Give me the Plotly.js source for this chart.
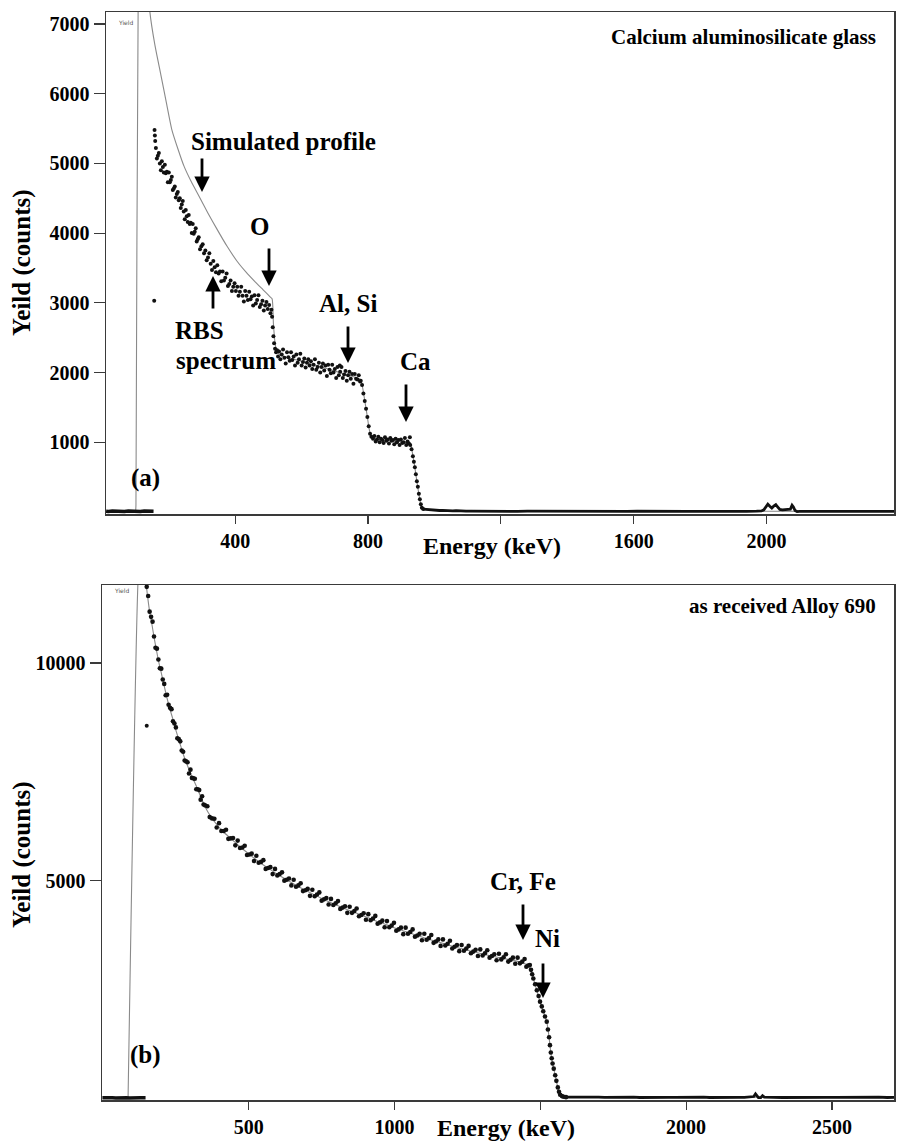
<!DOCTYPE html>
<html>
<head>
<meta charset="utf-8">
<script src="https://cdn.plot.ly/plotly-3.0.1.min.js"></script>
<style>html,body{margin:0;padding:0;background:#fff;}#chart{width:897px;height:1143px;}</style>
</head>
<body>
<div id="chart"></div>
<script>
// ---------- Panel (a): Calcium aluminosilicate glass  [energy keV, yield counts] ----------
const glassLow = [[11,10],[18,5],[30,12],[42,8],[54,14],[66,6],[78,12],[90,8],[102,14],[114,6],[126,12],[138,8],[150,10],[154,10]];
const glassOutliers = [[156,3030]];
const glassSpectrum = [
[157,5480],[158,5400],[159,5320],[161,5220],[164,5070],[167,5110],[170,5150],[173,5000],[176,4900],[179,5030],
[182,4950],[185,4870],[188,4980],[191,4860],[194,4880],[197,4730],[200,4870],[203,4730],[206,4760],[209,4810],
[212,4620],[215,4640],[218,4670],[221,4510],[224,4560],[227,4590],[230,4470],[233,4500],[236,4360],[239,4410],
[242,4460],[245,4310],[248,4200],[251,4330],[254,4240],[257,4160],[260,4260],[263,4130],[266,4150],[269,4000],
[272,4130],[275,3990],[278,4020],[281,4070],[284,3880],[287,3910],[290,3940],[294,3770],[298,3810],[302,3840],
[306,3710],[310,3750],[314,3610],[318,3650],[322,3710],[326,3560],[330,3470],[334,3600],[338,3510],[342,3440],
[346,3540],[350,3420],[354,3450],[358,3310],[362,3450],[366,3320],[370,3360],[374,3420],[378,3240],[382,3270],
[386,3320],[390,3170],[394,3230],[398,3280],[402,3170],[406,3230],[410,3100],[414,3160],[418,3230],[422,3100],
[426,3020],[430,3170],[434,3100],[438,3040],[442,3160],[446,3050],[450,3090],[454,2960],[458,3110],[462,2990],
[466,3040],[470,3110],[474,2940],[478,2980],[482,3030],[486,2890],[490,2960],[494,3010],[498,2910],[502,2970],
[506,2850],[509,2900],[511,2800],[513,2650],[515,2520],[517,2420],[520,2340],[523,2290],[526,2320],[529,2230],
[532,2300],[536,2190],[540,2260],[544,2330],[548,2210],[552,2130],[556,2290],[560,2220],[564,2170],[568,2290],
[572,2180],[576,2230],[580,2100],[584,2260],[588,2140],[592,2190],[596,2270],[600,2100],[604,2150],[608,2200],
[612,2070],[616,2140],[620,2190],[624,2100],[628,2160],[632,2050],[636,2110],[640,2190],[644,2040],[648,2080],
[652,2140],[656,2000],[660,2080],[664,2130],[668,2030],[672,2100],[676,1950],[680,2110],[684,2040],[688,1990],
[692,2110],[696,2000],[700,2050],[704,1920],[708,2080],[712,1960],[715,2100],[716,2010],[720,2080],[724,1920],
[728,1970],[732,2020],[736,1880],[740,1960],[744,2010],[748,1910],[752,1980],[756,1840],[760,1980],[764,1910],
[768,1900],[772,1960],[776,1870],[778,1880],[782,1820],[786,1700],[790,1590],[794,1480],[798,1360],[802,1230],
[806,1120],[810,1080],[815,1050],[819,1090],[823,1010],[827,1040],[831,1080],[835,1000],[839,1050],[843,1030],
[847,990],[851,1070],[855,1020],[859,1040],[863,980],[867,1060],[871,1020],[875,1030],[879,970],[883,1050],
[887,1000],[891,1030],[895,960],[899,1040],[903,990],[907,1000],[911,1060],[915,960],[919,1010],[923,980],
[926,1070],[927,960],[931,900],[935,800],[938,720],[941,640],[944,540],[947,440],[950,360],[953,260],
[956,180],[959,110],[962,60],[966,40]
];
const glassTail = [[966,40],[975,35],[985,30],[995,25],[1005,28],[1015,20],[1025,22],[1035,18],[1045,20],[1055,15],
[1065,18],[1075,14],[1085,16],[1095,12],[1110,12],[1130,10],[1160,12],[1190,9],[1220,11],[1250,8],[1280,10],
[1310,9],[1340,8],[1370,10],[1400,8],[1430,9],[1460,7],[1490,10],[1520,8],[1550,9],[1580,7],[1610,10],[1640,8],
[1670,9],[1700,7],[1730,10],[1760,8],[1790,9],[1820,7],[1850,10],[1880,8],[1910,9],[1940,7],[1970,10],[1985,14],
[1992,30],[1998,70],[2004,110],[2010,80],[2016,55],[2022,85],[2028,105],[2034,70],[2040,35],[2048,30],[2056,30],
[2064,32],[2072,40],[2077,95],[2081,70],[2086,20],[2092,5],[2100,8],[2130,9],[2160,7],[2190,10],[2220,8],
[2250,9],[2280,7],[2310,10],[2340,8],[2370,9],[2384,8]];
const glassSimulated = [[100,0],[101,100],[108,7600],[116,8600],[128,8500],[143,7171],[158,6700],[176,6271],
[192,5886],[209,5486],[228,5200],[246,4957],[267,4743],[291,4529],[318,4286],[345,4057],[375,3814],[405,3600],
[432,3443],[460,3300],[484,3186],[505,3086],[511,3057],[515,2700],[520,2420],[526,2290],
[540,2240],[600,2160],[645,2100],[700,2020],[746,1955],[776,1905],[780,1870],[786,1720],[790,1600],[794,1480],
[798,1360],[802,1230],[806,1130],[810,1070],[820,1045],[860,1025],[900,1005],[926,985],[931,920],[935,810],
[941,640],[947,440],[953,260],[959,110],[966,45],[1000,25],[1100,12],[2384,8]];

// ---------- Panel (b): as received Alloy 690 ----------
const alloyLow = [[-2,10],[8,14],[20,8],[32,12],[44,6],[56,14],[68,8],[80,12],[92,6],[104,14],[116,8],[128,12],[140,10],[146,10]];
const alloyOutliers = [[150,8560]];
const alloySpectrum = [
[150,11750],[155,11540],[160,11180],[165,11060],[170,10950],[175,10610],[180,10350],[185,10330],[190,10080],[195,9880],
[200,9870],[205,9620],[210,9520],[215,9260],[220,9270],[225,9040],[230,8970],[235,8940],[240,8660],[245,8610],
[250,8520],[255,8270],[260,8250],[265,8200],[270,7990],[275,7960],[280,7760],[285,7740],[290,7720],[295,7460],
[300,7550],[305,7360],[310,7350],[315,7340],[320,7100],[325,7100],[330,7080],[335,6860],[340,6940],[345,6750],
[350,6730],[358,6710],[366,6460],[374,6430],[382,6420],[390,6220],[398,6320],[406,6140],[414,6140],[422,6170],
[430,5960],[438,5970],[446,5980],[454,5810],[462,5920],[470,5750],[478,5760],[486,5800],[494,5590],[502,5600],
[510,5620],[518,5450],[526,5570],[534,5410],[542,5430],[550,5470],[558,5270],[566,5290],[574,5310],[582,5150],
[590,5270],[598,5120],[606,5150],[614,5190],[622,5000],[630,5020],[638,5050],[646,4890],[654,5020],[662,4860],
[670,4890],[678,4940],[686,4760],[694,4780],[702,4810],[710,4650],[718,4790],[726,4640],[734,4680],[742,4730],
[750,4540],[758,4570],[766,4600],[774,4450],[782,4580],[790,4440],[798,4480],[806,4530],[814,4350],[822,4380],
[830,4410],[838,4260],[846,4400],[854,4260],[862,4300],[870,4360],[878,4180],[886,4210],[894,4250],[902,4100],
[910,4230],[918,4090],[926,4130],[934,4190],[942,4010],[950,4040],[958,4080],[966,3930],[974,4070],[982,3930],
[990,3970],[998,4030],[1006,3850],[1014,3880],[1022,3920],[1030,3770],[1038,3920],[1046,3780],[1054,3820],[1062,3880],
[1070,3710],[1078,3740],[1086,3780],[1094,3630],[1102,3780],[1110,3640],[1118,3680],[1126,3750],[1134,3570],[1142,3600],
[1150,3650],[1158,3500],[1166,3650],[1174,3510],[1182,3550],[1190,3620],[1198,3440],[1206,3480],[1214,3520],[1222,3380],
[1230,3520],[1238,3390],[1246,3440],[1254,3500],[1262,3330],[1270,3370],[1278,3410],[1286,3270],[1294,3420],[1302,3280],
[1310,3330],[1318,3400],[1326,3230],[1334,3270],[1342,3310],[1350,3170],[1358,3320],[1366,3190],[1374,3240],[1382,3310],
[1390,3140],[1398,3180],[1406,3230],[1414,3090],[1422,3230],[1430,3100],[1438,3140],[1446,3200],[1452,3020],[1458,3050],
[1464,3060],[1468,2950],[1472,2850],[1476,2750],[1482,2620],[1488,2480],[1494,2350],[1499,2220],[1505,2110],[1510,2000],
[1516,1880],[1522,1760],[1526,1580],[1530,1400],[1533,1220],[1536,1050],[1539,920],[1542,800],[1546,680],[1551,530],
[1555,400],[1560,250],[1564,150],[1568,80],[1574,50],[1580,35],[1588,25]
];
const alloyTail = [[1588,25],[1600,30],[1620,28],[1640,25],[1660,30],[1680,22],[1700,25],[1720,20],[1740,24],[1760,18],
[1780,22],[1800,20],[1820,24],[1840,18],[1860,22],[1880,20],[1900,24],[1920,18],[1940,22],[1960,20],[1980,24],
[2000,18],[2020,22],[2040,20],[2060,24],[2080,18],[2100,22],[2120,20],[2140,24],[2160,18],[2180,22],[2200,20],
[2220,24],[2232,40],[2238,100],[2242,60],[2248,15],[2256,15],[2262,60],[2268,25],[2280,20],[2300,22],[2330,18],
[2360,22],[2390,20],[2420,24],[2450,18],[2480,22],[2510,20],[2540,24],[2570,18],[2600,22],[2630,20],[2660,24],
[2690,18],[2713,20]];
const alloySimulated = [[86,0],[121,12000],[130,12600],[146,12000],[150,11700],[155,11420],[160,11180],[167,10920],
[175,10600],[184,10270],[192,10000],[201,9740],[210,9470],[219,9210],[230,8930],[241,8680],[252,8410],[264,8150],
[275,7910],[287,7690],[300,7470],[321,7160],[335,6930],[350,6700],[370,6470],[390,6290],[410,6140],[436,5980],
[460,5840],[480,5720],[510,5560],[539,5410],[570,5270],[600,5140],[640,4980],[676,4840],[720,4690],[760,4560],
[800,4440],[847,4310],[890,4200],[930,4090],[975,3980],[1019,3870],[1060,3780],[1100,3690],[1145,3600],[1190,3510],
[1250,3400],[1305,3310],[1360,3230],[1419,3150],[1450,3080],[1465,3000],[1476,2750],[1488,2480],[1499,2220],
[1510,2000],[1522,1760],[1530,1400],[1536,1050],[1542,800],[1551,530],[1560,250],[1568,80],[1580,30],[1600,25],[2713,20]];

// ---------- tick labels ----------
const glassYTicks = [1000,2000,3000,4000,5000,6000,7000];
const glassXTicks = [400,800,1200,1600,2000];
const glassXLabels = ['400','800','','1600','2000'];
const alloyYTicks = [5000,10000];
const alloyXTicks = [500,1000,1500,2000,2500];
const alloyXLabels = ['500','1000','','2000','2500'];

// ---------- build ----------
const W = 897, H = 1143;
const px = v => v / W;
const py = v => 1 - v / H;
const X = a => a.map(p => p[0]);
const Y = a => a.map(p => p[1]);
const SERIF = 'Times New Roman, Liberation Serif, serif';
const B = s => s === '' ? '' : '<b>' + s + '</b>';

function panelTraces(xa, ya, low, spec, tail, outl, sim, msize) {
  return [
    {x: X(sim), y: Y(sim), xaxis: xa, yaxis: ya, mode: 'lines', line: {color: '#8a8a8a', width: 1.1, shape: 'spline', smoothing: 0.6}},
    {x: X(low), y: Y(low), xaxis: xa, yaxis: ya, mode: 'lines', line: {color: '#111', width: 3.5}},
    {x: X(tail), y: Y(tail), xaxis: xa, yaxis: ya, mode: 'lines', line: {color: '#111', width: 2.8}},
    {x: X(spec), y: Y(spec), xaxis: xa, yaxis: ya, mode: 'markers', cliponaxis: false,
     marker: {color: '#111', size: msize}},
    {x: X(outl), y: Y(outl), xaxis: xa, yaxis: ya, mode: 'markers', cliponaxis: false,
     marker: {color: '#111', size: 4}}
  ];
}

const data = [].concat(
  panelTraces('x', 'y', glassLow, glassSpectrum, glassTail, glassOutliers, glassSimulated, 4),
  panelTraces('x2', 'y2', alloyLow, alloySpectrum, alloyTail, alloyOutliers, alloySimulated, 4.6)
);

const axisCommon = {
  showline: true, linecolor: '#3a3a3a', linewidth: 1.5, mirror: true,
  showgrid: false, zeroline: false, ticks: 'outside', tickcolor: '#3a3a3a', tickwidth: 1.2,
  tickfont: {family: SERIF, size: 20, color: '#000'}
};

function txt(t, x, y, size, opts) {
  return Object.assign({text: B(t), x: px(x), y: py(y), xref: 'paper', yref: 'paper', showarrow: false,
    xanchor: 'center', yanchor: 'middle', font: {family: SERIF, size: size, color: '#000'}}, opts || {});
}
function arrow(x, yTail, yTip) {
  return {text: '', x: px(x), y: py(yTip), xref: 'paper', yref: 'paper', showarrow: true,
    ax: 0, ay: yTail - yTip, axref: 'pixel', ayref: 'pixel',
    arrowhead: 2, arrowsize: 1.1, arrowwidth: 2.8, arrowcolor: '#000', standoff: 0, startstandoff: 0};
}

const annotations = [
  txt('Calcium aluminosilicate glass', 878, 37, 21, {xanchor: 'right'}),
  txt('Simulated profile', 283, 141, 25),
  txt('O', 259, 226, 25),
  txt('RBS', 199, 330, 25),
  txt('spectrum', 226, 360, 25),
  txt('Al, Si', 348, 304, 25),
  txt('Ca', 415, 362, 25),
  txt('(a)', 145, 478, 25),
  txt('Energy (keV)', 492, 546, 24),
  txt('Yeild (counts)', 22, 263, 25, {textangle: -90}),
  {text: 'Yield', x: px(116), y: py(17), xref: 'paper', yref: 'paper', showarrow: false, font: {family: 'DejaVu Sans', size: 6, color: '#555'}},
  arrow(202, 157, 192),
  arrow(269, 247, 286),
  arrow(213, 310, 276),
  arrow(348, 325, 363),
  arrow(406, 383, 422),

  txt('as received Alloy 690', 878, 606, 21, {xanchor: 'right'}),
  txt('Cr, Fe', 523, 881, 25),
  txt('Ni', 547, 939, 25),
  txt('(b)', 145, 1055, 25),
  txt('Energy (keV)', 506, 1128, 24),
  txt('Yeild (counts)', 22, 855, 25, {textangle: -90}),
  {text: 'Yield', x: px(112), y: py(590), xref: 'paper', yref: 'paper', showarrow: false, font: {family: 'DejaVu Sans', size: 6, color: '#555'}},
  arrow(523, 903, 940),
  arrow(543, 962, 998)
];

const layout = {
  width: W, height: H, margin: {l: 0, r: 0, t: 0, b: 0},
  paper_bgcolor: '#fff', plot_bgcolor: '#fff', showlegend: false,
  font: {family: SERIF, color: '#000'},
  xaxis: Object.assign({}, axisCommon, {domain: [px(106), px(894)], anchor: 'y', range: [10.8, 2384],
    tickmode: 'array', tickvals: glassXTicks, ticktext: glassXLabels.map(B), ticklen: 8}),
  yaxis: Object.assign({}, axisCommon, {domain: [py(514), py(12)], anchor: 'x', range: [-30, 7172],
    tickmode: 'array', tickvals: glassYTicks, ticktext: glassYTicks.map(v => B(String(v))), ticklen: 11}),
  xaxis2: Object.assign({}, axisCommon, {domain: [px(102), px(894)], anchor: 'y2', range: [-3.4, 2713],
    tickmode: 'array', tickvals: alloyXTicks, ticktext: alloyXLabels.map(B), ticklen: 8}),
  yaxis2: Object.assign({}, axisCommon, {domain: [py(1100), py(585)], anchor: 'x2', range: [-40, 11792],
    tickmode: 'array', tickvals: alloyYTicks, ticktext: alloyYTicks.map(v => B(String(v))), ticklen: 11}),
  annotations: annotations
};

Plotly.newPlot('chart', data, layout, {staticPlot: true, displayModeBar: false});
</script>
</body>
</html>
